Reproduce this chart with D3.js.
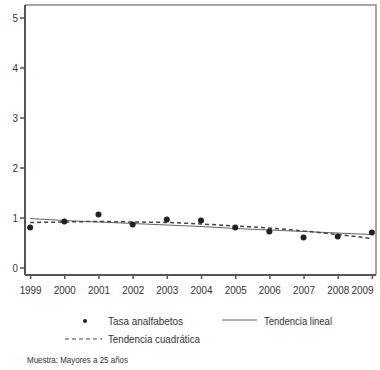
<!DOCTYPE html>
<html>
<head>
<meta charset="utf-8">
<script src="https://cdn.jsdelivr.net/npm/d3@7"></script>
<style>
    html, body { margin: 0; padding: 0; background: #fff; }
    svg text { font-family: "Liberation Sans", Arial, sans-serif; fill: #333; }
</style>
</head>
<body>
<svg id="chart" width="380" height="370"></svg>
<script>
    // ---- data ----
    var years = [1999, 2000, 2001, 2002, 2003, 2004, 2005, 2006, 2007, 2008, 2009];
    var tasa = [0.80, 0.92, 1.06, 0.86, 0.96, 0.94, 0.80, 0.72, 0.60, 0.62, 0.70];
    var tendLineal = [0.98, 0.94, 0.91, 0.88, 0.85, 0.82, 0.78, 0.75, 0.72, 0.69, 0.66];
    var tendCuad = [0.90, 0.91, 0.92, 0.91, 0.90, 0.87, 0.83, 0.79, 0.73, 0.66, 0.58];
    var yTicks = [0, 1, 2, 3, 4, 5];
    var legendLabels = ['Tasa analfabetos', 'Tendencia lineal', 'Tendencia cuadrática'];
    var note = 'Muestra: Mayores a 25 años';

    var box = { left: 25, right: 376, top: 5, bottom: 275 };

    var svg = d3.select('#chart');

    var x = d3.scaleLinear()
        .domain([1998.85, 2009.12])
        .range([box.left, box.right]);
    var y = d3.scaleLinear()
        .domain([-0.15, 5.25])
        .range([box.bottom, box.top]);

    // the reference uses a narrow face; squeeze glyphs to the measured widths
    function narrow(sel, w) {
        sel.attr('textLength', w).attr('lengthAdjust', 'spacingAndGlyphs');
    }

    // frame: light top/right, darker left/bottom axes
    svg.append('path')
        .attr('d', 'M' + box.left + ',' + box.top + 'H' + box.right + 'V' + box.bottom)
        .attr('fill', 'none')
        .attr('stroke', '#8a8a8a')
        .attr('stroke-width', 1.5);

    var yAxis = svg.append('g')
        .attr('transform', 'translate(' + box.left + ',0)')
        .call(d3.axisLeft(y).tickValues(yTicks).tickSize(5).tickPadding(2).tickFormat(d3.format('d')));
    var xAxis = svg.append('g')
        .attr('transform', 'translate(0,' + box.bottom + ')')
        .call(d3.axisBottom(x).tickValues(years).tickSize(4).tickPadding(7).tickFormat(d3.format('d')));

    [yAxis, xAxis].forEach(function (ax) {
        ax.select('.domain').attr('stroke', '#555').attr('stroke-width', 2);
        ax.selectAll('.tick line').attr('stroke', '#555').attr('stroke-width', 1.5);
        ax.selectAll('.tick text').style('font-size', '11.5px').attr('fill', '#333');
    });
    yAxis.select('.domain').attr('d', 'M0,' + box.top + 'V' + box.bottom);
    yAxis.selectAll('.tick text').call(narrow, 5.5);
    xAxis.select('.domain').attr('d', 'M' + box.left + ',0H' + box.right);
    xAxis.selectAll('.tick text').call(narrow, 22);
    // last label sits against the right edge; keep it inside the window
    xAxis.selectAll('.tick text').filter(function (d) { return d === 2009; })
        .attr('text-anchor', 'end').attr('x', 1);

    // trend lines
    var line = function (vals, curve) {
        return d3.line()
            .x(function (d, i) { return x(years[i]); })
            .y(function (d) { return y(d); })
            .curve(curve)(vals);
    };

    svg.append('path')
        .attr('d', line(tendLineal, d3.curveLinear))
        .attr('fill', 'none')
        .attr('stroke', '#666')
        .attr('stroke-width', 1.2);

    svg.append('path')
        .attr('d', line(tendCuad, d3.curveMonotoneX))
        .attr('fill', 'none')
        .attr('stroke', '#444')
        .attr('stroke-width', 1.5)
        .attr('stroke-dasharray', '4,3');

    // points
    svg.append('g').selectAll('circle')
        .data(tasa)
        .join('circle')
        .attr('cx', function (d, i) { return x(years[i]); })
        .attr('cy', function (d) { return y(d); })
        .attr('r', 3)
        .attr('fill', '#222');

    // legend
    var lg = svg.append('g');
    lg.append('circle').attr('cx', 85).attr('cy', 321).attr('r', 2).attr('fill', '#222');
    lg.append('text').attr('x', 108).attr('y', 325).style('font-size', '11px')
        .text(legendLabels[0]).call(narrow, 75);
    lg.append('line').attr('x1', 222).attr('x2', 257).attr('y1', 320).attr('y2', 320)
        .attr('stroke', '#666').attr('stroke-width', 1);
    lg.append('text').attr('x', 264).attr('y', 325).style('font-size', '11px')
        .text(legendLabels[1]).call(narrow, 68);
    lg.append('line').attr('x1', 65).attr('x2', 102).attr('y1', 339).attr('y2', 339)
        .attr('stroke', '#444').attr('stroke-width', 1).attr('stroke-dasharray', '4,3');
    lg.append('text').attr('x', 108).attr('y', 343).style('font-size', '11px')
        .text(legendLabels[2]).call(narrow, 92);

    svg.append('text').attr('x', 27).attr('y', 363).style('font-size', '9px')
        .text(note).call(narrow, 101);
</script>
</body>
</html>
